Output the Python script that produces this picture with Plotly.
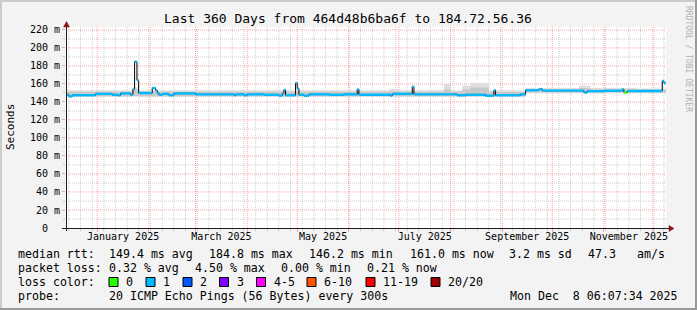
import plotly.graph_objects as go
import pandas as pd

# ---------------- data ----------------
START = "2024-12-13 06:07:34"
END = "2025-12-08 06:07:34"

med_dates = [
    "2024-12-13 06:07", "2024-12-15", "2024-12-17", "2024-12-31", "2025-01-10",
    "2025-01-13", "2025-01-15", "2025-01-21", "2025-01-22 10:00", "2025-01-23 10:00",
    "2025-01-24 20:00", "2025-01-25 20:00", "2025-02-03", "2025-02-05", "2025-02-06",
    "2025-02-07", "2025-02-09", "2025-02-13", "2025-02-16", "2025-03-01",
    "2025-03-24", "2025-03-25", "2025-03-30", "2025-04-01", "2025-04-11",
    "2025-04-20", "2025-04-22", "2025-04-23", "2025-04-24", "2025-04-30",
    "2025-05-01", "2025-05-02", "2025-05-05", "2025-05-08", "2025-05-20",
    "2025-05-29", "2025-06-06", "2025-06-07", "2025-06-26", "2025-06-27",
    "2025-07-09", "2025-07-10", "2025-08-05", "2025-08-10", "2025-08-22",
    "2025-08-27", "2025-08-28", "2025-09-12", "2025-09-15", "2025-09-23",
    "2025-09-25", "2025-10-20", "2025-10-22", "2025-11-01", "2025-11-12",
    "2025-11-13", "2025-11-15", "2025-12-06", "2025-12-07",
]
med_vals = [
    148.0, 146.2, 147.5, 149.0, 148.0,
    147.5, 149.5, 148.0, 154.0, 184.8,
    164.0, 150.0, 155.5, 153.0, 150.0,
    148.0, 149.0, 147.5, 149.5, 148.5,
    147.5, 148.5, 147.5, 148.5, 148.0,
    147.0, 149.5, 153.5, 147.5, 161.0,
    155.0, 148.0, 147.0, 148.5, 148.0,
    148.5, 154.0, 148.0, 147.0, 149.0,
    157.0, 148.5, 147.5, 148.0, 147.0,
    153.0, 147.5, 148.5, 153.0, 154.3,
    152.6, 150.6, 152.0, 152.5, 154.0,
    150.6, 152.2, 163.5, 161.0,
]
med_loss = [
    1, 1, 1, 1, 1, 1, 1, 1, 1, 1,
    1, 1, 1, 1, 1, 1, 1, 1, 1, 1,
    1, 1, 1, 1, 1, 1, 1, 1, 1, 1,
    1, 1, 1, 1, 1, 1, 1, 1, 1, 1,
    1, 1, 1, 1, 1, 1, 1, 1, 1, 1,
    1, 1, 1, 1, 1, 0, 1, 1, 1,
]

smoke_dates = ["2024-12-13 06:07", "2025-01-22", "2025-01-26", "2025-06-25", "2025-07-01",
               "2025-07-28", "2025-08-01", "2025-08-08", "2025-08-13", "2025-08-24",
               "2025-09-15", "2025-10-17", "2025-10-24", "2025-11-20"]
smoke_lo = [146.0, 146.5, 146.0, 146.0, 146.0, 146.0, 146.0, 146.0, 146.0, 146.0,
            150.5, 150.5, 150.5, 150.5]
smoke_mid = [151.5, 154.0, 151.5, 152.0, 151.5, 154.0, 151.5, 154.0, 156.0, 151.0,
             154.0, 155.5, 154.0, 154.0]
smoke_hi = [153.0, 156.0, 153.0, 154.5, 153.0, 160.0, 153.0, 158.0, 161.0, 153.0,
            155.5, 158.0, 155.5, 155.0]

y_ticks = [0, 20, 40, 60, 80, 100, 120, 140, 160, 180, 200, 220]
y_tick_text = ["0\u00a0\u00a0", "20 m", "40 m", "60 m", "80 m", "100 m", "120 m",
               "140 m", "160 m", "180 m", "200 m", "220 m"]
y_minor = [10, 30, 50, 70, 90, 110, 130, 150, 170, 190, 210]
x_label_vals = ["2025-01-16 12:00", "2025-03-16 12:00", "2025-05-16 12:00",
                "2025-07-16 12:00", "2025-09-16", "2025-11-16"]
x_label_text = ["January 2025", "March 2025", "May 2025", "July 2025",
                "September 2025", "November 2025"]

loss_names = ["0", "1", "2", "3", "4-5", "6-10", "11-19", "20/20"]
loss_colors = ["#26ff00", "#00b8ff", "#0059ff", "#7e00ff", "#ff00ff", "#ff5500",
               "#ff0000", "#a10000"]

rtt_stats = ["149.4 ms avg", "184.8 ms max", "146.2 ms min", "161.0 ms now",
             "3.2 ms sd", "47.3", "am/s"]
loss_stats = ["0.32 % avg", "4.50 % max", "0.00 % min", "0.21 % now"]

# ---------------- layout geometry ----------------
W, H = 697, 310
L, R, T, B = 66, 666, 27, 228
MONO = "DejaVu Sans Mono"
Y_MAX = 223.3


def px(x):
    return (x - L) / (R - L)


def py(y):
    return (B - y) / (B - T)


fig = go.Figure()

# smoke bands
for top, col in [(smoke_hi, "#dedede"), (smoke_mid, "#c8c8c8")]:
    fig.add_trace(go.Scatter(x=smoke_dates + [END], y=smoke_lo + [smoke_lo[-1]],
                             mode="lines", line=dict(width=0, shape="hv"),
                             hoverinfo="skip", showlegend=False))
    fig.add_trace(go.Scatter(x=smoke_dates + [END], y=top + [top[-1]],
                             mode="lines", line=dict(width=0, shape="hv"),
                             fill="tonexty", fillcolor=col,
                             hoverinfo="skip", showlegend=False))

# black median line
fig.add_trace(go.Scatter(x=med_dates + [END], y=med_vals + [med_vals[-1]],
                         mode="lines", line=dict(color="#000000", width=1, shape="hv"),
                         hoverinfo="skip", showlegend=False))

# loss coloured median segments
ends = med_dates[1:] + [END]
for ci, col in enumerate(loss_colors):
    xs, ys = [], []
    for d0, d1, v, lo in zip(med_dates, ends, med_vals, med_loss):
        if lo == ci:
            xs += [d0, d1, None]
            ys += [v, v, None]
    if xs:
        fig.add_trace(go.Scatter(x=xs, y=ys, mode="lines",
                                 line=dict(color=col, width=2.4),
                                 connectgaps=False, hoverinfo="skip", showlegend=False))

# dummy trace for label axis
fig.add_trace(go.Scatter(x=[START, END], y=[None, None], xaxis="x2", mode="lines",
                         hoverinfo="skip", showlegend=False))

MAJ = "rgba(240,110,110,0.62)"
MIN = "rgba(160,160,160,0.5)"
DASH = "1px,1px"

fig.update_layout(
    template="none",
    width=W, height=H,
    margin=dict(l=L, r=W - R, t=T, b=H - B, autoexpand=False),
    paper_bgcolor="#f3f3f3", plot_bgcolor="#ffffff",
    font=dict(family=MONO, size=10, color="#000000"),
    xaxis=dict(type="date", range=[START, END], dtick="M1", tick0="2025-01-01",
               showticklabels=False, ticks="outside", ticklen=3, tickcolor=MAJ, tickwidth=1,
               showgrid=False, showline=False, zeroline=False,
               minor=dict(dtick=7 * 86400000, tick0="2024-12-15", showgrid=False,
                          ticks="outside", ticklen=2, tickcolor=MIN, tickwidth=1)),
    xaxis2=dict(type="date", range=[START, END], overlaying="x", anchor="y", side="bottom",
                tickmode="array", tickvals=x_label_vals, ticktext=x_label_text,
                ticks="", showgrid=False, showline=False, zeroline=False,
                tickfont=dict(family=MONO, size=10), ticklabelstandoff=1),
    yaxis=dict(range=[0, Y_MAX], tickmode="array", tickvals=y_ticks, ticktext=y_tick_text,
               ticks="outside", ticklen=3, tickcolor=MAJ, tickwidth=1,
               showgrid=False, showline=False, zeroline=False,
               tickfont=dict(family=MONO, size=10),
               minor=dict(tickmode="array", tickvals=y_minor, showgrid=False,
                          ticks="outside", ticklen=2, tickcolor=MIN, tickwidth=1)),
    showlegend=False,
)

shapes = []
ann = []

# grid (drawn between the plot background and the traces)
week_lines = pd.date_range("2024-12-15", END, freq="7D")
month_lines = pd.date_range("2025-01-01", END, freq="MS")
for d in week_lines:
    shapes.append(dict(type="line", xref="x", yref="paper", x0=d, x1=d, y0=0, y1=1,
                       layer="between", line=dict(color=MIN, width=1, dash=DASH)))
for v in y_minor:
    shapes.append(dict(type="line", xref="paper", yref="y", x0=0, x1=1, y0=v, y1=v,
                       layer="between", line=dict(color=MIN, width=1, dash=DASH)))
for d in month_lines:
    shapes.append(dict(type="line", xref="x", yref="paper", x0=d, x1=d, y0=0, y1=1,
                       layer="between", line=dict(color=MAJ, width=1, dash=DASH)))
for v in y_ticks[1:]:
    shapes.append(dict(type="line", xref="paper", yref="y", x0=0, x1=1, y0=v, y1=v,
                       layer="between", line=dict(color=MAJ, width=1, dash=DASH)))

# frame border
shapes.append(dict(type="line", xref="paper", yref="paper", x0=px(0), x1=px(W), y0=py(1), y1=py(1),
                   line=dict(color="#cbcbcb", width=2)))
shapes.append(dict(type="line", xref="paper", yref="paper", x0=px(1), x1=px(1), y0=py(0), y1=py(H),
                   line=dict(color="#cbcbcb", width=2)))
shapes.append(dict(type="line", xref="paper", yref="paper", x0=px(0), x1=px(W), y0=py(H - 1), y1=py(H - 1),
                   line=dict(color="#999999", width=2)))
shapes.append(dict(type="line", xref="paper", yref="paper", x0=px(W - 1), x1=px(W - 1), y0=py(0), y1=py(H),
                   line=dict(color="#999999", width=2)))

# axes + arrows
AX = "#202020"
ARW = "#8c1414"
shapes.append(dict(type="line", xref="paper", yref="paper", x0=px(62), x1=px(669), y0=py(228.5), y1=py(228.5),
                   line=dict(color=AX, width=1)))
shapes.append(dict(type="line", xref="paper", yref="paper", x0=px(66.5), x1=px(66.5), y0=py(231), y1=py(25),
                   line=dict(color=AX, width=1)))
shapes.append(dict(type="path", xref="paper", yref="paper",
                   path=f"M {px(669)},{py(225.5)} L {px(674)},{py(228.5)} L {px(669)},{py(231.5)} Z",
                   fillcolor=ARW, line=dict(color=ARW, width=0.5)))
shapes.append(dict(type="path", xref="paper", yref="paper",
                   path=f"M {px(63.5)},{py(27)} L {px(66.5)},{py(21.5)} L {px(69.5)},{py(27)} Z",
                   fillcolor=ARW, line=dict(color=ARW, width=0.5)))

# title, axis title, watermark
ann.append(dict(text="Last 360 Days from 464d48b6ba6f to 184.72.56.36", x=px(348), y=py(18),
                font=dict(family=MONO, size=13)))
ann.append(dict(text="Seconds", x=px(11), y=py(127), textangle=-90, font=dict(family=MONO, size=11)))
ann.append(dict(text="RRDTOOL / TOBI OETIKER", x=px(689), y=py(59), textangle=90,
                font=dict(family=MONO, size=8, color="#b0b0b0")))

LF = 11.6
rows_y = [254, 268, 282, 296]
ann.append(dict(text="median rtt:", x=px(16), y=py(rows_y[0]), xanchor="left", font=dict(family=MONO, size=LF)))
for t, xp in zip(rtt_stats, [107.3, 207.3, 307.3, 407.7, 506.7, 586, 635]):
    ann.append(dict(text=t, x=px(xp), y=py(rows_y[0]), xanchor="left", font=dict(family=MONO, size=LF)))
ann.append(dict(text="packet loss:", x=px(16), y=py(rows_y[1]), xanchor="left", font=dict(family=MONO, size=LF)))
for t, xp in zip(loss_stats, [107.3, 193.3, 279.3, 365.0]):
    ann.append(dict(text=t, x=px(xp), y=py(rows_y[1]), xanchor="left", font=dict(family=MONO, size=LF)))
ann.append(dict(text="loss color:", x=px(16), y=py(rows_y[2]), xanchor="left", font=dict(family=MONO, size=LF)))
box_x = [109, 146, 183, 219.5, 256.5, 307, 366, 431]
for name, col, bx in zip(loss_names, loss_colors, box_x):
    shapes.append(dict(type="rect", xref="paper", yref="paper", x0=px(bx), x1=px(bx + 9),
                       y0=py(rows_y[2] - 4.5), y1=py(rows_y[2] + 4.5), fillcolor=col,
                       line=dict(color="#000000", width=1)))
    ann.append(dict(text=name, x=px(bx + 15), y=py(rows_y[2]), xanchor="left", font=dict(family=MONO, size=LF)))
ann.append(dict(text="probe:", x=px(16), y=py(rows_y[3]), xanchor="left", font=dict(family=MONO, size=LF)))
ann.append(dict(text="20 ICMP Echo Pings (56 Bytes) every 300s", x=px(107.3), y=py(rows_y[3]),
                xanchor="left", font=dict(family=MONO, size=LF)))
ann.append(dict(text="Mon Dec \u00a08 06:07:34 2025", x=px(680), y=py(rows_y[3]), xanchor="right",
                font=dict(family=MONO, size=LF)))

for a in ann:
    a.setdefault("xref", "paper")
    a.setdefault("yref", "paper")
    a.setdefault("showarrow", False)
    a.setdefault("xanchor", "center")
    a.setdefault("yanchor", "middle")

fig.update_layout(shapes=shapes, annotations=ann)
fig.write_html("out.html")
